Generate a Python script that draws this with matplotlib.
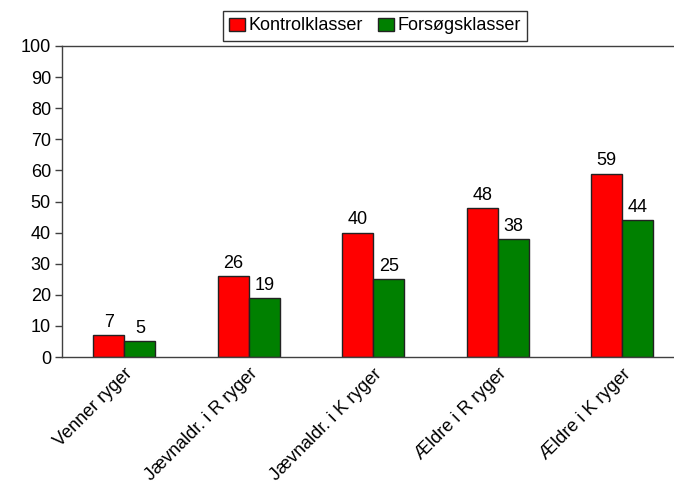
import matplotlib
matplotlib.use("Agg")
import matplotlib.pyplot as plt
import numpy as np

plt.rcParams['font.family'] = ['Liberation Sans', 'DejaVu Sans']

categories = ["Venner ryger", "Jævnaldr. i R ryger", "Jævnaldr. i K ryger",
              "Ældre i R ryger", "Ældre i K ryger"]
kontrol = [7, 26, 40, 48, 59]
forsog = [5, 19, 25, 38, 44]
series_names = ["Kontrolklasser", "Forsøgsklasser"]
yticks = list(range(0, 101, 10))

FS = 13

fig = plt.figure(figsize=(6.74, 4.96), dpi=100)
ax = fig.add_axes([62/674, (496-357)/496, (674-62)/674, (357-46)/496])

x = np.arange(len(categories))
w = 0.25
b1 = ax.bar(x - w/2, kontrol, w, color='#ff0000', edgecolor='#222222', linewidth=1, label=series_names[0])
b2 = ax.bar(x + w/2, forsog, w, color='#008000', edgecolor='#222222', linewidth=1, label=series_names[1])

for bars, vals in ((b1, kontrol), (b2, forsog)):
    for r, v in zip(bars, vals):
        ax.annotate(str(v), (r.get_x() + r.get_width()/2, v), xytext=(0, 3),
                    textcoords='offset points', ha='center', va='bottom', fontsize=FS)

ax.set_xlim(-0.5, (674-62)/124.5 - 0.5)
ax.set_ylim(0, 100)
ax.set_yticks(yticks)
ax.set_xticks(x)
ax.set_xticklabels(categories, rotation=45, ha='right', rotation_mode='anchor', fontsize=FS)
ax.tick_params(axis='y', labelsize=FS, length=5, color='#404040', width=1, pad=3)
ax.tick_params(axis='x', length=0, pad=6)
for s in ('left', 'bottom', 'top'):
    ax.spines[s].set_color('#404040')
    ax.spines[s].set_linewidth(1)
ax.spines['right'].set_visible(False)

leg = fig.legend(loc='center', bbox_to_anchor=(375/674, 1 - 26/496), ncol=2, fontsize=FS,
                 frameon=True, fancybox=False, edgecolor='#000000', handlelength=0.9,
                 handleheight=0.7, handletextpad=0.2, columnspacing=0.8, borderpad=0.35,
                 borderaxespad=0)
leg.get_frame().set_linewidth(1)

fig.savefig("out.png", dpi=100)
